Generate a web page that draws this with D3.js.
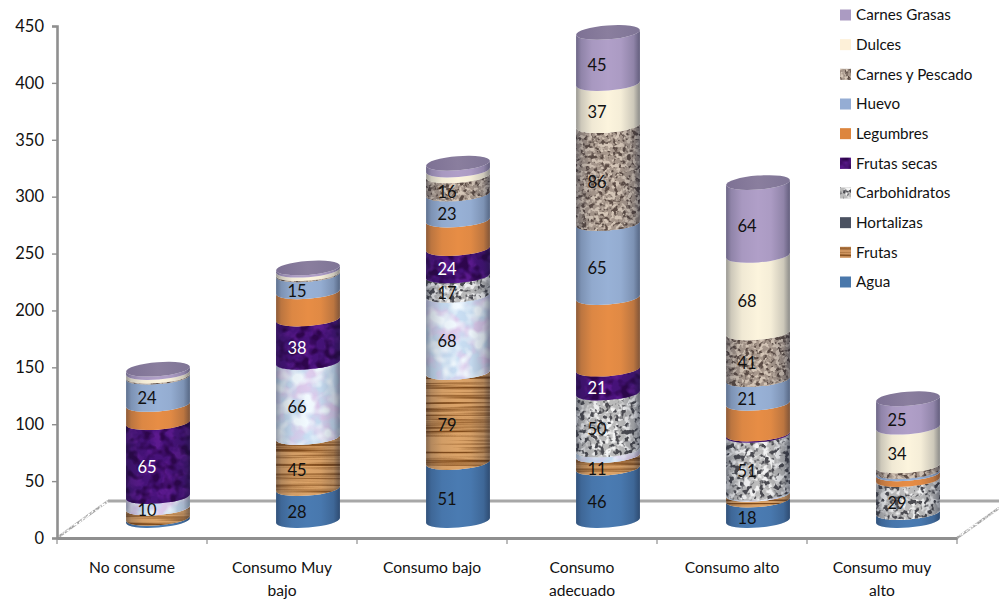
<!DOCTYPE html>
<html>
<head>
<meta charset="utf-8">
<script src="https://cdnjs.cloudflare.com/ajax/libs/d3/7.8.5/d3.min.js"></script>
<style>
  html, body { margin: 0; padding: 0; background: #fff; }
  svg { display: block; }
  text { font-family: Lato, "Open Sans", sans-serif; fill: #111; }
</style>
</head>
<body>
<svg id="chart" width="999" height="603"></svg>
<script>
// Consumption groups along the horizontal axis
const categories = ["No consume", "Consumo Muy bajo", "Consumo bajo", "Consumo adecuado", "Consumo alto", "Consumo muy alto"];
const categoryLines = [["No consume"], ["Consumo Muy", "bajo"], ["Consumo bajo"], ["Consumo", "adecuado"], ["Consumo alto"], ["Consumo muy", "alto"]];

// Food groups, stacking order bottom to top
const seriesNames = ["Agua", "Frutas", "Hortalizas", "Carbohidratos", "Frutas secas", "Legumbres", "Huevo", "Carnes y Pescado", "Dulces", "Carnes Grasas"];

const agua         = [2, 28, 51, 46, 18, 7];
const frutas       = [9, 45, 79, 11, 5, 0];
const hortalizas   = [10, 66, 68, 5, 1, 0];
const carbohidratos = [0, 0, 17, 50, 51, 29];
const frutasSecas  = [65, 38, 24, 21, 1, 0];
const legumbres    = [16, 24, 25, 63, 27, 5];
const huevo        = [24, 15, 23, 65, 21, 2];
const carnesPescado = [1, 1, 16, 86, 41, 5];
const dulces       = [3, 3, 5, 37, 68, 34];
const carnesGrasas = [3, 2, 6, 45, 64, 25];

const seriesValues = [agua, frutas, hortalizas, carbohidratos, frutasSecas, legumbres, huevo, carnesPescado, dulces, carnesGrasas];

const fillColors   = ["#4a7bb2", "#dca469", "#c9def3", "#bcbcbc", "#47127a", "#e78d45", "#98b1d6", "#a8988c", "#fcf4dd", "#b09fc8"];
const legendColors = ["#4a78ab", "#cf9560", "#4b5261", "#bcbcbc", "#43126e", "#dd853d", "#95add4", "#a8988c", "#fdf0d8", "#ab9bc2"];
const whiteLabelSeries = ["Frutas secas"];
const unlabelledSeries = ["Legumbres"];
const minLabelledValue = 10;

const yTicks = [0, 50, 100, 150, 200, 250, 300, 350, 400, 450];

// Noise layers painted over a series' base colour
const textures = {
  "Frutas": [{ freq: "0.006 0.3", oct: 3, rgb: [0.5, 0.29, 0.1], k: 3.4, c: -1.45 }],
  "Hortalizas": [
    { freq: "0.05", oct: 3, rgb: [0.87, 0.8, 0.93], k: 4, c: -1.6 },
    { freq: "0.07", oct: 2, rgb: [0.95, 0.98, 1], k: 4, c: -1.7 }
  ],
  "Carbohidratos": [
    { freq: "0.16", oct: 2, rgb: [0.96, 0.96, 0.96], k: 6, c: -2.7, seed: 4 },
    { freq: "0.2", oct: 2, rgb: [0.3, 0.3, 0.32], k: 7, c: -3.6, seed: 9 }
  ],
  "Frutas secas": [
    { freq: "0.08", oct: 3, rgb: [0.36, 0.1, 0.56], k: 4, c: -1.7, seed: 2 },
    { freq: "0.1", oct: 2, rgb: [0.18, 0.02, 0.3], k: 4, c: -1.8, seed: 6 }
  ],
  "Carnes y Pescado": [
    { freq: "0.22", oct: 2, rgb: [0.36, 0.3, 0.27], k: 7, c: -3.4, seed: 3 },
    { freq: "0.25", oct: 2, rgb: [0.84, 0.78, 0.72], k: 6, c: -2.8, seed: 8 }
  ]
};

const svg = d3.select("#chart");
const defs = svg.append("defs");

const plot = { left: 57, right: 957, top: 26, bottom: 538 };
const wall = { left: 108, right: 999, y: 501, rightY: 508 };
const barShiftX = 26, barShiftY = 17.5, barRadius = 32, barCurve = 7, tiltDeg = 4.5;
const tilt = tiltDeg * Math.PI / 180;

const x = d3.scaleBand().domain(categories).range([plot.left, plot.right]);
const y = d3.scaleLinear().domain([0, 450]).range([plot.bottom, plot.top]);

// Texture filters, one per textured series
function addTexture(name, layers) {
  const id = "tex-" + seriesNames.indexOf(name);
  const f = defs.append("filter").attr("id", id)
    .attr("x", 0).attr("y", 0).attr("width", "100%").attr("height", "100%")
    .attr("color-interpolation-filters", "sRGB");
  const outs = [];
  layers.forEach((l, i) => {
    f.append("feTurbulence").attr("type", "fractalNoise")
      .attr("baseFrequency", l.freq).attr("numOctaves", l.oct)
      .attr("seed", l.seed || 1).attr("result", "n" + i);
    f.append("feColorMatrix").attr("in", "n" + i).attr("type", "matrix")
      .attr("values", `0 0 0 0 ${l.rgb[0]} 0 0 0 0 ${l.rgb[1]} 0 0 0 0 ${l.rgb[2]} ${l.k} 0 0 0 ${l.c}`)
      .attr("result", "c" + i);
    f.append("feComposite").attr("in", "c" + i).attr("in2", "SourceAlpha")
      .attr("operator", "in").attr("result", "m" + i);
    outs.push("m" + i);
  });
  const merge = f.append("feMerge");
  merge.append("feMergeNode").attr("in", "SourceGraphic");
  outs.forEach(o => merge.append("feMergeNode").attr("in", o));
  return id;
}
const textureIds = {};
Object.keys(textures).forEach(k => { textureIds[k] = addTexture(k, textures[k]); });

// Horizontal shading that rounds the cylinders
const shade = defs.append("linearGradient").attr("id", "cyl-shade");
[[0, 0.42], [0.08, 0.2], [0.25, 0.05], [0.5, 0], [0.7, 0.03], [0.9, 0.2], [1, 0.48]].forEach(([o, a]) => {
  shade.append("stop").attr("offset", o).attr("stop-color", "#10182c").attr("stop-opacity", a);
});
const capFill = defs.append("linearGradient").attr("id", "cap-fill");
[[0, "#7d7194"], [0.5, "#8a7e9e"], [1, "#7f7596"]].forEach(([o, c]) => {
  capFill.append("stop").attr("offset", o).attr("stop-color", c);
});
const floorGrain = defs.append("filter").attr("id", "floor-grain")
  .attr("filterUnits", "userSpaceOnUse").attr("x", 0).attr("y", 0).attr("width", 999).attr("height", 603);
floorGrain.append("feTurbulence").attr("type", "fractalNoise").attr("baseFrequency", "0.5").attr("numOctaves", 1).attr("result", "n");
floorGrain.append("feColorMatrix").attr("in", "n").attr("type", "matrix")
  .attr("values", "0 0 0 0 1 0 0 0 0 1 0 0 0 0 1 5 0 0 0 -2.2").attr("result", "w");
floorGrain.append("feComposite").attr("in", "w").attr("in2", "SourceAlpha").attr("operator", "in").attr("result", "g");
const fm = floorGrain.append("feMerge");
fm.append("feMergeNode").attr("in", "SourceGraphic");
fm.append("feMergeNode").attr("in", "g");

// Floor and back wall edges
const frame = svg.append("g").attr("stroke-linecap", "butt").attr("fill", "none");
frame.append("line").attr("x1", wall.left).attr("x2", wall.right).attr("y1", wall.y).attr("y2", wall.y)
  .attr("stroke", "#a8a8a8").attr("stroke-width", 3);
frame.append("g").attr("filter", "url(#floor-grain)").selectAll("line")
  .data([[plot.left, plot.bottom, wall.left, wall.y], [plot.right, plot.bottom, wall.right, wall.rightY]])
  .join("line")
  .attr("x1", d => d[0]).attr("y1", d => d[1]).attr("x2", d => d[2]).attr("y2", d => d[3])
  .attr("stroke", "#a6a6a6").attr("stroke-width", 2.4);

// Value axis
const axisY = svg.append("g").attr("transform", `translate(${plot.left},0)`)
  .call(d3.axisLeft(y).tickValues(yTicks).tickSize(5).tickPadding(8));
axisY.select(".domain").attr("stroke", "#8f8f8f").attr("stroke-width", 2.6);
axisY.selectAll(".tick line").attr("stroke", "#8f8f8f").attr("stroke-width", 1.4);
axisY.selectAll("text").style("font-size", "16.5px").style("font-family", "Lato, sans-serif").attr("fill", "#111");

// Category axis: ticks sit on the band edges, labels at the band centres
const axisX = svg.append("g").attr("transform", `translate(0,${plot.bottom})`)
  .call(d3.axisBottom(x).tickSize(0).tickPadding(0).tickFormat(""));
axisX.select(".domain").attr("stroke", "#8f8f8f").attr("stroke-width", 3);
axisX.selectAll(".tick").each(function(d, i) {
  const t = d3.select(this).select("text")
    .attr("y", 0).attr("dy", null).attr("fill", "#111")
    .style("font-size", "15.6px").style("font-family", "Lato, sans-serif");
  t.selectAll("tspan").data(categoryLines[i]).join("tspan")
    .attr("x", 0).attr("y", (l, j) => 34.5 + j * 23).text(l => l);
});
axisX.selectAll(".edge").data(d3.range(categories.length + 1)).join("line").attr("class", "edge")
  .attr("x1", i => plot.left + i * x.step()).attr("x2", i => plot.left + i * x.step())
  .attr("y1", 0).attr("y2", 6).attr("stroke", "#8f8f8f").attr("stroke-width", 1.2);

// Cylinders
const stackGen = d3.stack().keys(d3.range(seriesNames.length)).value((d, k) => seriesValues[k][d]);
const stacked = stackGen(d3.range(categories.length));

const dx = barRadius * Math.cos(tilt), dy = barRadius * Math.sin(tilt);
function bandPath(cx, yBottom, yTop) {
  const arc = (sweep, ex, ey) => `A${barRadius},${barCurve} ${-tiltDeg} 0 ${sweep} ${ex},${ey}`;
  return `M${cx - dx},${yBottom + dy}L${cx - dx},${yTop + dy}` +
    arc(0, cx + dx, yTop - dy) + `L${cx + dx},${yBottom - dy}` + arc(1, cx - dx, yBottom + dy) + "Z";
}
const centreX = c => x(c) + x.bandwidth() / 2 + barShiftX;
const levelY = v => y(v) - barShiftY;

const bars = svg.append("g");
categories.forEach((cat, ci) => {
  const g = bars.append("g");
  const cx = centreX(cat);
  stacked.forEach((s, si) => {
    const [v0, v1] = s[ci];
    if (v1 <= v0) return;
    const name = seriesNames[si];
    const d = bandPath(cx, levelY(v0), levelY(v1));
    const p = g.append("path").attr("d", d).attr("fill", fillColors[si]);
    if (textureIds[name]) p.attr("filter", `url(#${textureIds[name]})`);
    g.append("path").attr("d", d).attr("fill", "url(#cyl-shade)");
  });
  const total = d3.sum(seriesValues, s => s[ci]);
  g.append("ellipse").attr("rx", barRadius).attr("ry", barCurve)
    .attr("transform", `translate(${cx},${levelY(total)}) rotate(${-tiltDeg})`)
    .attr("fill", "url(#cap-fill)");
});

// Value labels, sitting left of the axis of each cylinder
const labels = svg.append("g").attr("text-anchor", "middle").style("font-size", "16.5px");
categories.forEach((cat, ci) => {
  stacked.forEach((s, si) => {
    const name = seriesNames[si];
    const v = seriesValues[si][ci];
    if (v < minLabelledValue || unlabelledSeries.includes(name)) return;
    labels.append("text")
      .attr("x", centreX(cat) - 11)
      .attr("y", (levelY(s[ci][0]) + levelY(s[ci][1])) / 2 + 7.5)
      .attr("dy", "0.35em")
      .style("fill", whiteLabelSeries.includes(name) ? "#fff" : "#111")
      .text(v);
  });
});

// Legend, top entry first
const legendRow = d3.scalePoint().domain([...seriesNames].reverse()).range([15, 282]);
const legend = svg.append("g");
seriesNames.forEach((name, si) => {
  const ly = legendRow(name);
  const r = legend.append("rect").attr("x", 840).attr("y", ly - 5.5).attr("width", 11).attr("height", 11)
    .attr("fill", legendColors[si]);
  if (textureIds[name] && name !== "Hortalizas") r.attr("filter", `url(#${textureIds[name]})`);
  legend.append("text").attr("x", 856).attr("y", ly).attr("dy", "0.35em")
    .style("font-size", "15.2px").text(name);
});
</script>
</body>
</html>
